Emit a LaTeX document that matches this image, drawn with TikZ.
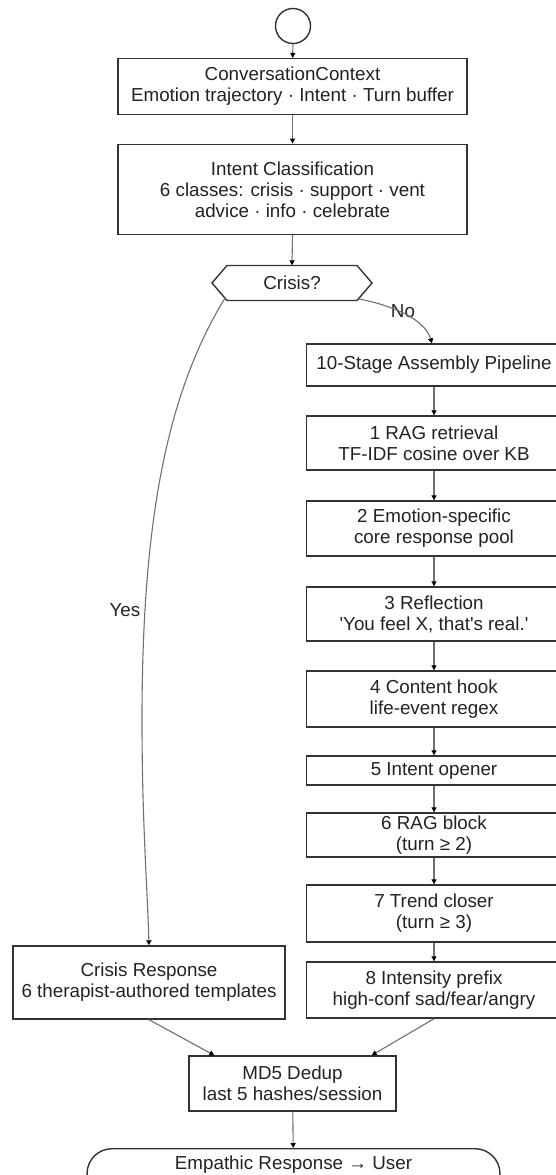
\documentclass[tikz,border=0pt]{standalone}
\usepackage{fontspec}
\setmainfont{Liberation Sans}
\usetikzlibrary{arrows.meta,calc}
\definecolor{boxc}{HTML}{333333}
\definecolor{linec}{HTML}{707070}
\definecolor{txtc}{HTML}{222222}
\begin{document}
\begin{tikzpicture}[x=1pt,y=-1pt,
  every node/.style={font=\fontsize{18.8}{21}\selectfont, text=txtc, align=center, inner sep=0pt},
  box/.style={draw=boxc, line width=1.4pt, rectangle, minimum width=#1},
  conn/.style={draw=linec, line width=1.1pt, -{Triangle[length=5pt,width=5pt,color=black]}},
  shapeline/.style={draw=boxc, line width=1.4pt, line join=miter}]
\useasboundingbox (0,0) rectangle (555,1175);

% start
\node[circle, draw=boxc, line width=1.4pt, minimum size=35pt] (start) at (293,26) {};

\node[box=349pt, minimum height=55.6pt] (cc) at (292.5,86.5)
  {ConversationContext\\Emotion trajectory · Intent · Turn buffer};
\node[box=349pt, minimum height=90pt] (ic) at (292.5,189.3)
  {Intent Classification\\6 classes: crisis · support · vent\\advice · info · celebrate};

% decision
\node[minimum width=130pt, minimum height=35pt] (hex) at (292,283) {Crisis?};
\draw[shapeline] (212,283) -- (227,265.5) -- (357,265.5) -- (372,283) -- (357,300.5) -- (227,300.5) -- cycle;
\coordinate (hexYes) at (225,298);
\coordinate (hexNo) at (359,299);

% right column
\node[box=255pt, minimum height=42pt] (stage) at (434,365) {10-Stage Assembly Pipeline};
\node[box=255pt, minimum height=54pt] (s1) at (434,443) {1 RAG retrieval\\TF-IDF cosine over KB};
\node[box=255pt, minimum height=55pt] (s2) at (434,528.5) {2 Emotion-specific\\core response pool};
\node[box=255pt, minimum height=54pt] (s3) at (434,614) {3 Reflection\\\textquotesingle You feel X, that\textquotesingle s real.\textquotesingle};
\node[box=255pt, minimum height=56pt] (s4) at (434,699) {4 Content hook\\life-event regex};
\node[box=255pt, minimum height=29pt] (s5) at (434,770.5) {5 Intent opener};
\node[box=255pt, minimum height=44pt] (s6) at (434,835) {6 RAG block\\(turn ≥ 2)};
\node[box=255pt, minimum height=57pt] (s7) at (434,913.5) {7 Trend closer\\(turn ≥ 3)};
\node[box=255pt, minimum height=56pt] (s8) at (434,990) {8 Intensity prefix\\high-conf sad/fear/angry};

% left
\node[box=272pt, minimum height=73pt] (cr) at (149,982.5) {Crisis Response\\6 therapist-authored templates};

% bottom
\node[box=207pt, minimum height=55pt] (md5) at (292.5,1083.5) {MD5 Dedup\\last 5 hashes/session};
\node[draw=boxc, line width=1.4pt, rectangle, rounded corners=25pt, minimum width=413pt,
      text height=20.7pt, text depth=29.3pt, anchor=north] (emp) at (293.5,1148) {Empathic Response → User};

% labels
\node (nolab) at (403,311) {No};
\node (yeslab) at (125,610) {Yes};

% connectors
\draw[conn] (start) -- (cc);
\draw[conn] (cc) -- (ic);
\draw[conn] (ic.south) -- (hex.north);
\draw[conn] (hexNo) .. controls (395,306) and (425,320) .. ([xshift=-2pt]stage.north);
\draw[conn] (hexYes) .. controls (167,393) and (142,520) .. (142,720) .. controls (142,820) and (147,880) .. (cr.north);
\draw[conn] (stage) -- (s1);
\draw[conn] (s1) -- (s2);
\draw[conn] (s2) -- (s3);
\draw[conn] (s3) -- (s4);
\draw[conn] (s4) -- (s5);
\draw[conn] (s5) -- (s6);
\draw[conn] (s6) -- (s7);
\draw[conn] (s7) -- (s8);
\draw[conn] (cr.south) -- ([xshift=26pt]md5.north west);
\draw[conn] (s8.south) -- ([xshift=-25pt]md5.north east);
\draw[conn] (md5) -- (emp);
\end{tikzpicture}
\end{document}
